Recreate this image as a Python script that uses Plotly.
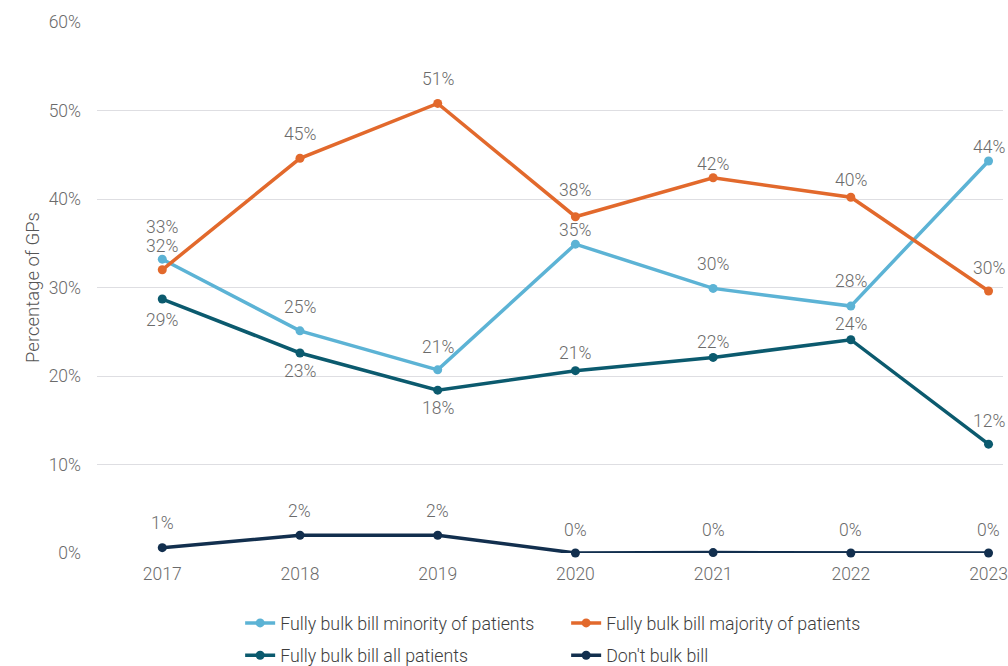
import plotly.graph_objects as go

years = [2017, 2018, 2019, 2020, 2021, 2022, 2023]
minority = [33.2, 25.1, 20.7, 34.9, 29.9, 27.9, 44.3]
majority = [32.0, 44.6, 50.8, 38.0, 42.4, 40.2, 29.6]
all_patients = [28.7, 22.6, 18.4, 20.6, 22.1, 24.1, 12.3]
dont_bulk = [0.6, 2.0, 2.0, 0.0, 0.05, 0.0, 0.0]

series_names = ["Fully bulk bill minority of patients", "Fully bulk bill majority of patients",
                "Fully bulk bill all patients", "Don't bulk bill"]
series_values = [minority, majority, all_patients, dont_bulk]
colors = ["#5cb3d5", "#e2692c", "#0b5a6e", "#122f4e"]
legends = ["legend", "legend", "legend2", "legend2"]

# label vertical offsets (px, positive = up)
label_offsets = [
    [32, 24, 23, 14, 24, 25, 14],
    [24, 24, 24, 27, 14, 17, 23],
    [-21, -18, -18, 18, 15, 16, 23],
    [25, 24, 24, 23, 23, 23, 23],
]

FONT = "Roboto"
TXT = "#6b6b6b"

fig = go.Figure()
for name, vals, col, lg in zip(series_names, series_values, colors, legends):
    fig.add_trace(go.Scatter(
        x=years, y=vals, name=name, mode="lines+markers",
        line=dict(color=col, width=3.5),
        marker=dict(color=col, size=9),
        cliponaxis=False, legend=lg,
    ))

annotations = []
for vals, offs in zip(series_values, label_offsets):
    for x, v, o in zip(years, vals, offs):
        annotations.append(dict(
            x=x, y=v, text=f"{int(v + 0.5)}%", showarrow=False,
            xanchor="center", yanchor="middle", yshift=o,
            font=dict(family=FONT, size=17.5, color=TXT, weight=300),
        ))

fig.update_layout(
    width=1008, height=666,
    margin=dict(l=97, r=0, t=22, b=113),
    paper_bgcolor="white", plot_bgcolor="white",
    font=dict(family=FONT, size=17, color=TXT),
    annotations=annotations,
    xaxis=dict(
        range=[2016.526, 2023.105], tickvals=years, ticktext=[str(y) for y in years],
        showgrid=False, zeroline=False, showline=False, ticks="",
        ticklabelstandoff=8, ticklabeloverflow="allow",
        tickfont=dict(family=FONT, size=17.5, color=TXT, weight=300),
    ),
    yaxis=dict(
        range=[0, 60], dtick=10, ticksuffix="%",
        showgrid=True, gridcolor="#dedee2", gridwidth=1,
        zeroline=False, showline=False, ticks="",
        ticklabelstandoff=15,
        tickfont=dict(family=FONT, size=17.5, color=TXT, weight=300),
        title=dict(text="Percentage of GPs", standoff=4,
                   font=dict(family=FONT, size=18.5, color="#555555", weight=300)),
    ),
    legend=dict(orientation="h", x=0.158, xanchor="left",
                yref="container", y=0.0641, yanchor="middle",
                entrywidth=281, entrywidthmode="pixels",
                font=dict(family=FONT, size=17.8, color="#3d3d3d", weight=300),
                bgcolor="rgba(0,0,0,0)"),
    legend2=dict(orientation="h", x=0.158, xanchor="left",
                 yref="container", y=0.0155, yanchor="middle",
                 entrywidth=281, entrywidthmode="pixels",
                 font=dict(family=FONT, size=17.8, color="#3d3d3d", weight=300),
                 bgcolor="rgba(0,0,0,0)"),
)

fig.write_html(
    "out.html",
    config={"displayModeBar": False},
    post_script="document.body.style.margin='0';document.body.style.overflow='hidden';",
)
